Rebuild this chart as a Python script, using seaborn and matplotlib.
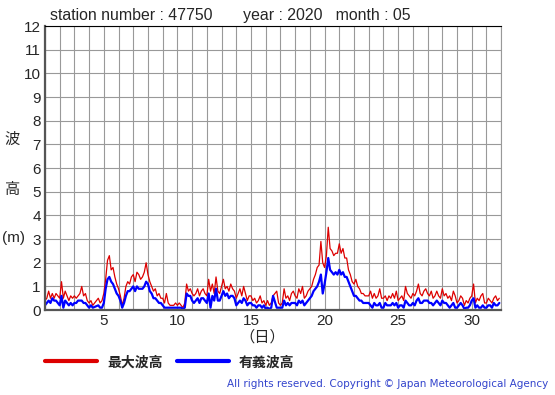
import numpy as np
import pandas as pd
import seaborn as sns
import matplotlib.pyplot as plt

sns.set_style('white')
plt.rcParams['font.family'] = ['Liberation Sans', 'Noto Sans CJK JP', 'DejaVu Sans']

nan = np.nan
days = list(range(1, 32))
hours = [0, 3, 6, 9, 12, 15, 18, 21]

# max wave height (m), 3-hourly, one row per day
max_wave = [
    [0.4, 0.5, 0.8, 0.5, 0.7, 0.5, 0.7, 0.6],
    [0.5, 1.2, 0.5, 0.8, 0.6, 0.4, 0.6, 0.5],
    [0.6, 0.5, 0.6, 0.7, 1.0, 0.6, 0.7, 0.4],
    [0.3, 0.4, 0.2, nan, nan, 0.5, 0.3, 0.4],
    [0.7, 1.3, 2.1, 2.3, 1.7, 1.8, 1.4, 1.1],
    [0.9, 0.6, 0.2, 0.5, 1.0, 1.2, 1.1, 1.4],
    [1.5, 1.2, 1.6, 1.5, 1.3, 1.4, 1.6, 2.0],
    [1.5, 1.2, 1.0, 0.8, 0.9, 0.6, 0.7, 0.5],
    [0.5, 0.3, 0.7, 0.3, 0.2, nan, 0.2, 0.3],
    [0.2, 0.3, 0.2, 0.1, 0.3, 1.1, 0.8, 0.9],
    [0.7, 0.6, 0.7, 0.9, 0.6, 0.8, 0.9, 0.7],
    [0.6, 1.3, 0.8, 1.1, 0.7, 1.4, 0.8, 0.7],
    [1.0, 1.3, 0.9, 1.0, 0.8, 1.1, 0.9, 0.8],
    [0.5, 0.7, 0.9, 0.6, 1.0, 0.7, 0.4, 0.6],
    [0.6, 0.4, 0.5, 0.3, 0.4, 0.6, 0.3, 0.4],
    [0.2, 0.4, 0.2, 0.3, 0.6, nan, 0.8, 0.3],
    [0.2, 0.3, 0.9, 0.5, 0.6, 0.4, 0.7, 0.8],
    [0.6, 0.5, 0.9, 0.7, 1.0, 0.5, 0.6, 0.8],
    [0.9, 1.0, 1.3, 1.5, 1.8, 1.9, 2.9, 2.0],
    [1.8, 2.3, 3.5, 2.6, 2.5, 2.3, 2.4, 2.4],
    [2.8, 2.4, 2.6, 2.2, 2.2, 1.7, 1.5, 1.2],
    [1.1, 1.3, 1.0, 0.9, 0.7, 0.7, 0.6, 0.6],
    [0.6, 0.8, 0.5, 0.7, 0.5, 0.6, 0.9, 0.5],
    [0.5, 0.6, 0.4, 0.6, 0.5, 0.7, 0.5, 0.8],
    [0.4, 0.5, 0.6, 0.4, 1.0, 0.7, 0.6, 0.5],
    [0.7, 0.6, 0.8, 1.1, 0.7, 0.6, 0.8, 0.9],
    [0.7, 0.6, 0.8, 0.5, 0.6, 0.8, 0.6, 0.5],
    [0.9, 0.6, 0.7, 0.5, 0.6, 0.4, 0.8, 0.6],
    [0.3, 0.4, 0.6, 0.5, 0.2, 0.4, 0.3, 0.5],
    [0.6, 1.1, 0.3, 0.5, 0.4, 0.6, 0.7, 0.3],
    [0.3, 0.5, 0.4, 0.3, 0.5, 0.6, 0.4, 0.5],
]

# significant wave height (m)
sig_wave = [
    [0.2, 0.3, 0.4, 0.3, 0.5, 0.4, 0.4, 0.3],
    [0.2, 0.6, 0.1, 0.4, 0.3, 0.2, 0.3, 0.2],
    [0.3, 0.3, 0.4, 0.4, 0.4, 0.3, 0.3, 0.2],
    [0.1, 0.2, 0.1, nan, nan, 0.2, 0.1, 0.1],
    [0.3, 0.9, 1.3, 1.4, 1.2, 1.1, 0.9, 0.7],
    [0.6, 0.4, 0.1, 0.3, 0.6, 0.8, 0.8, 0.9],
    [1.0, 0.8, 1.0, 0.9, 0.9, 0.9, 1.0, 1.2],
    [1.1, 0.8, 0.7, 0.5, 0.5, 0.4, 0.3, 0.3],
    [0.2, 0.1, 0.1, 0.1, 0.1, nan, 0.1, 0.1],
    [0.1, 0.1, 0.1, 0.05, 0.1, 0.7, 0.6, 0.6],
    [0.4, 0.3, 0.4, 0.5, 0.3, 0.5, 0.5, 0.4],
    [0.3, 0.7, 0.1, 0.6, 0.4, 0.9, 0.4, 0.4],
    [0.6, 0.8, 0.6, 0.7, 0.5, 0.6, 0.6, 0.5],
    [0.2, 0.3, 0.4, 0.3, 0.5, 0.4, 0.2, 0.3],
    [0.3, 0.2, 0.2, 0.1, 0.2, 0.2, 0.1, 0.2],
    [0.05, 0.1, 0.05, 0.1, 0.6, nan, 0.1, 0.1],
    [0.1, 0.1, 0.4, 0.2, 0.3, 0.2, 0.3, 0.3],
    [0.3, 0.2, 0.4, 0.3, 0.4, 0.2, 0.3, 0.4],
    [0.5, 0.6, 0.8, 0.9, 1.0, 1.2, 1.5, 0.7],
    [1.1, 1.6, 2.2, 1.7, 1.6, 1.5, 1.6, 1.5],
    [1.7, 1.5, 1.6, 1.4, 1.4, 1.2, 1.0, 0.8],
    [0.6, 0.6, 0.5, 0.4, 0.4, 0.3, 0.3, 0.3],
    [0.3, 0.2, 0.1, 0.3, 0.2, 0.2, 0.3, 0.1],
    [0.1, 0.3, 0.2, 0.2, 0.2, 0.3, 0.2, 0.3],
    [0.1, 0.2, 0.2, 0.1, 0.4, 0.3, 0.2, 0.2],
    [0.3, 0.2, 0.4, 0.5, 0.3, 0.3, 0.4, 0.4],
    [0.4, 0.3, 0.3, 0.2, 0.3, 0.4, 0.3, 0.2],
    [0.4, 0.3, 0.3, 0.2, 0.1, 0.2, 0.3, 0.1],
    [0.1, 0.2, 0.3, 0.2, 0.05, 0.1, 0.1, 0.2],
    [0.4, 0.5, 0.1, 0.2, 0.1, 0.1, 0.2, 0.1],
    [0.1, 0.2, 0.2, 0.1, 0.3, 0.2, 0.2, 0.3],
]

x_ticks = [5, 10, 15, 20, 25, 30]
y_ticks = list(range(0, 13))


def main():
    t = [d + h / 24 for d in days for h in hours]
    df = pd.DataFrame({'t': t,
                       'max': np.ravel(max_wave),
                       'sig': np.ravel(sig_wave)})

    fig = plt.figure(figsize=(5.55, 3.95), dpi=100)
    ax = fig.add_axes([0.081, 0.215, 0.822, 0.719])

    sns.lineplot(x='t', y='max', data=df, color='#dd0000', lw=0.9,
                 estimator=None, ax=ax, label='最大波高')
    sns.lineplot(x='t', y='sig', data=df, color='#0000ff', lw=1.6,
                 estimator=None, ax=ax, label='有義波高')

    ax.set_xlim(1, 32)
    ax.set_ylim(0, 12)
    ax.set_xticks(range(1, 33), minor=True)
    ax.set_xticks(x_ticks)
    ax.set_yticks(y_ticks)
    ax.grid(True, which='both', color='#999999', lw=0.8)
    ax.tick_params(which='both', length=0, labelsize=11, pad=3)
    ax.set_xlabel('')
    ax.set_ylabel('')
    for s in ['left', 'bottom']:
        ax.spines[s].set_color('#555555')
        ax.spines[s].set_linewidth(1.6)
    ax.spines['top'].set_color('black')
    ax.spines['top'].set_linewidth(0.8)
    ax.spines['right'].set_color('#999999')
    ax.spines['right'].set_linewidth(0.8)

    handles, labels = ax.get_legend_handles_labels()
    ax.get_legend().remove()
    leg = fig.legend(handles, labels, loc='center left',
                     bbox_to_anchor=(0.058, 0.083), ncol=2, frameon=False,
                     handlelength=3.8, columnspacing=1.0, handletextpad=0.7,
                     prop={'size': 10, 'weight': 'bold'})
    for line in leg.get_lines():
        line.set_linewidth(3)

    fig.text(0.09, 0.962,
             'station number : 47750       year : 2020   month : 05',
             fontsize=11.4, va='center', ha='left')
    fig.text(0.022, 0.645, '波', fontsize=11, ha='center', va='center')
    fig.text(0.022, 0.52, '高', fontsize=11, ha='center', va='center')
    fig.text(0.024, 0.398, '(m)', fontsize=11, ha='center', va='center')
    fig.text(0.473, 0.146, '（日）', fontsize=11, ha='center', va='center')
    fig.text(0.988, 0.028,
             'All rights reserved. Copyright © Japan Meteorological Agency',
             fontsize=7.5, color='#3344cc', ha='right', va='center',
             family='DejaVu Sans')

    plt.savefig('out.png', dpi=100)
    plt.close()


if __name__ == '__main__':
    main()
